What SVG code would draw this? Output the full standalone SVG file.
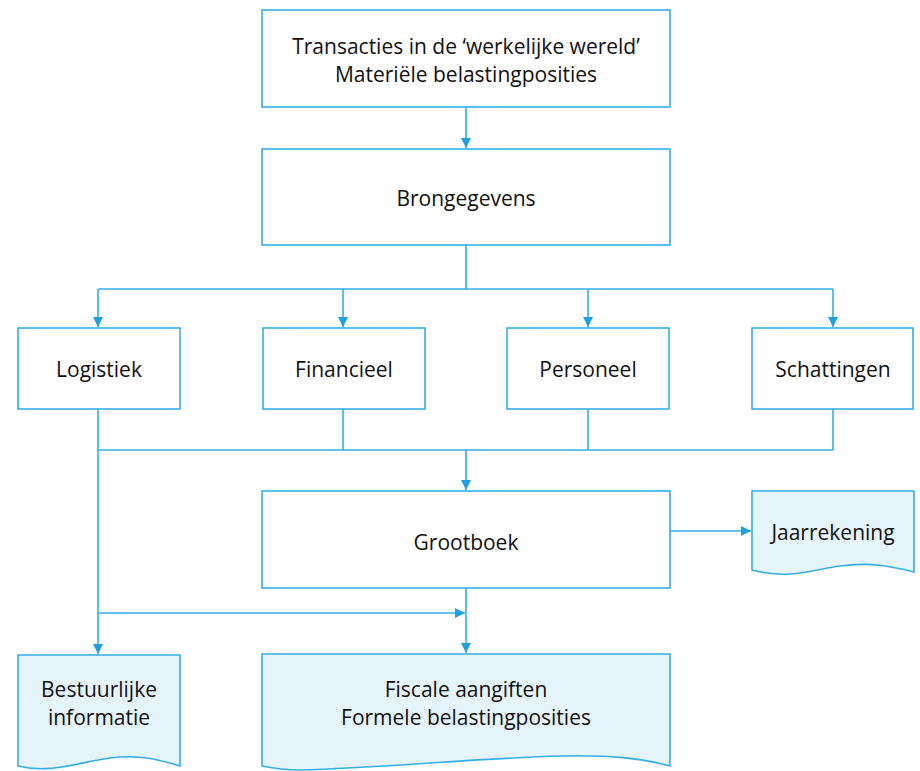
<svg xmlns="http://www.w3.org/2000/svg" width="920" height="771" viewBox="0 0 920 771">
<defs>
<style>
.box{fill:#ffffff;stroke:#35aee8;stroke-width:1.6}
.doc{fill:#e6f4fc;stroke:#35aee8;stroke-width:1.6}
.ln{fill:none;stroke:#35aee8;stroke-width:1.6}
text{font-family:"Open Sans","Noto Sans",sans-serif;font-size:21px;fill:#111111;text-anchor:middle}
</style>
<marker id="ah" viewBox="0 0 10 10" refX="10" refY="5" markerWidth="10" markerHeight="10" markerUnits="userSpaceOnUse" orient="auto">
<path d="M0,0 L10,5 L0,10 z" fill="#1e9fe0"/>
</marker>
</defs>
<rect width="920" height="771" fill="#ffffff"/>
<g id="connectors">
<path class="ln" d="M466,107 V148" marker-end="url(#ah)"/>
<path class="ln" d="M466,245 V289 M98,289 H833"/>
<path class="ln" d="M98,289 V327" marker-end="url(#ah)"/>
<path class="ln" d="M343,289 V327" marker-end="url(#ah)"/>
<path class="ln" d="M588,289 V327" marker-end="url(#ah)"/>
<path class="ln" d="M833,289 V327" marker-end="url(#ah)"/>
<path class="ln" d="M343,409 V450 M588,409 V450 M833,409 V450 M98,450 H833"/>
<path class="ln" d="M466,450 V490" marker-end="url(#ah)"/>
<path class="ln" d="M98,409 V654" marker-end="url(#ah)"/>
<path class="ln" d="M98,613 H465" marker-end="url(#ah)"/>
<path class="ln" d="M466,588 V653" marker-end="url(#ah)"/>
<path class="ln" d="M670,531 H751" marker-end="url(#ah)"/>
</g>
<g id="transacties">
<rect class="box" x="262" y="10" width="408" height="97"/>
<text x="466" y="54">Transacties in de ‘werkelijke wereld’</text>
<text x="466" y="82">Materiële belastingposities</text>
</g>
<g id="brongegevens">
<rect class="box" x="262" y="149" width="408" height="96"/>
<text x="466" y="206">Brongegevens</text>
</g>
<g id="logistiek">
<rect class="box" x="18" y="328" width="162" height="81"/>
<text x="99" y="377">Logistiek</text>
</g>
<g id="financieel">
<rect class="box" x="263" y="328" width="162" height="81"/>
<text x="344" y="377">Financieel</text>
</g>
<g id="personeel">
<rect class="box" x="507" y="328" width="162" height="81"/>
<text x="588" y="377">Personeel</text>
</g>
<g id="schattingen">
<rect class="box" x="752" y="328" width="161" height="81"/>
<text x="833" y="377">Schattingen</text>
</g>
<g id="grootboek">
<rect class="box" x="262" y="491" width="408" height="97"/>
<text x="466" y="550">Grootboek</text>
</g>
<g id="jaarrekening">
<path class="doc" d="M752,491 H914 V572 C890,566 870,562 840,566 C810,570 790,580 752,570 Z"/>
<text x="833" y="540">Jaarrekening</text>
</g>
<g id="bestuurlijke">
<path class="doc" d="M18,655 H180 V766 C160,760 140,754 110,758 C80,762 50,774 18,766 Z"/>
<text x="99" y="697">Bestuurlijke</text>
<text x="99" y="725">informatie</text>
</g>
<g id="fiscale">
<path class="doc" d="M262,654 H670 V766 C640,758 610,755 560,756 C480,758 380,768 300,770 C285,770 272,768 262,766 Z"/>
<text x="466" y="697">Fiscale aangiften</text>
<text x="466" y="725">Formele belastingposities</text>
</g>
</svg>
